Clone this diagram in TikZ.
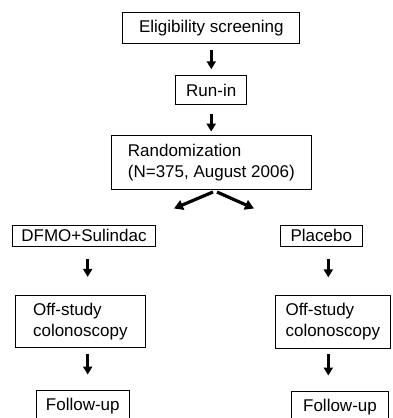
\documentclass[tikz,border=0pt]{standalone}
\usepackage{fontspec}
\setmainfont{Liberation Sans}
\usetikzlibrary{arrows.meta}

\begin{document}
\begin{tikzpicture}[
  x=1pt, y=-1pt,
  stepbox/.style={rectangle, draw, line width=0.9pt, inner sep=0pt,
                  align=left, font=\fontsize{17}{21}\selectfont},
  arr/.style={-{Triangle[length=8pt, width=9pt]}, line width=2.8pt},
  split/.style={-{Triangle[length=9pt, width=10pt]}, line width=3.2pt},
]
\useasboundingbox (0,0) rectangle (392,418);
\clip (0,0) rectangle (392,418);

% Top chain
\node[stepbox, minimum width=177pt, minimum height=31pt] (elig) at (211.3,28.3)
  {Eligibility screening};
\node[stepbox, minimum width=71pt, minimum height=28.6pt] (runin) at (211.2,90)
  {Run-in};
\node[stepbox, minimum width=200.7pt, minimum height=54.3pt] (rand) at (211.3,162.2)
  {Randomization\\(N=375, August 2006)};

% Two arms
\node[stepbox, minimum width=143.4pt, minimum height=21.7pt] (dfmo) at (84,235.8)
  {DFMO+Sulindac};
\node[stepbox, minimum width=82.7pt, minimum height=21.7pt] (plac) at (321.3,235.8)
  {Placebo};

\node[stepbox, minimum width=130.7pt, minimum height=52.3pt] (offL) at (80.3,321.5)
  {Off-study\\colonoscopy};
\node[stepbox, minimum width=115.7pt, minimum height=52.3pt] (offR) at (332.8,322)
  {Off-study\\colonoscopy};

\node[stepbox, minimum width=92.3pt, minimum height=32pt] (folL) at (82.8,406)
  {Follow-up};
\node[stepbox, minimum width=96.6pt, minimum height=32pt] (folR) at (340,407)
  {Follow-up};

% Free ends of the split
\coordinate (fromL) at (213,192);
\coordinate (fromR) at (217,192);
\coordinate (toL) at (174,208.5);
\coordinate (toR) at (254,208.5);

% Arrows
\draw[arr, shorten <=6pt, shorten >=6pt] (elig.south) -- (elig.south |- runin.north);
\draw[arr, shorten <=9pt, shorten >=3pt] (runin.south) -- (runin.south |- rand.north);
\draw[split] (fromL) -- (toL);
\draw[split] (fromR) -- (toR);

\draw[arr, shorten <=12pt, shorten >=18pt] ([xshift=3.7pt]dfmo.south) -- ([xshift=3.7pt]dfmo.south |- offL.north);
\draw[arr, shorten <=12pt, shorten >=18pt] ([xshift=7pt]plac.south) -- ([xshift=7pt]plac.south |- offR.north);
\draw[arr, shorten <=5.5pt, shorten >=15pt] ([xshift=7.4pt]offL.south) -- ([xshift=7.4pt]offL.south |- folL.north);
\draw[arr, shorten <=5.5pt, shorten >=15pt] ([xshift=-4.5pt]offR.south) -- ([xshift=-4.5pt]offR.south |- folR.north);

\end{tikzpicture}
\end{document}
